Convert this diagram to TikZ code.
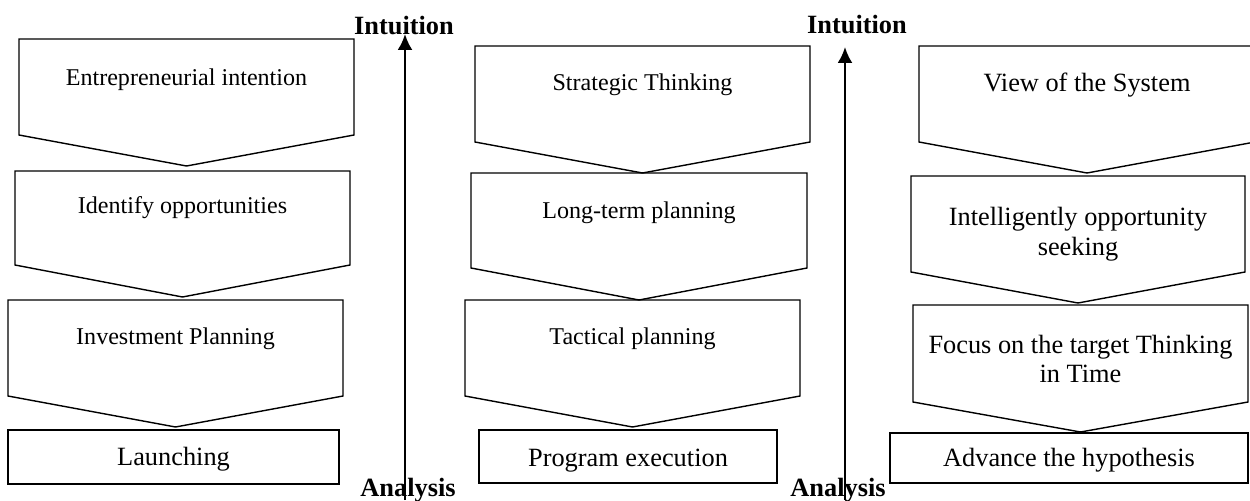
\documentclass[tikz,border=0pt]{standalone}
\usepackage{fontspec}
\setmainfont{Liberation Serif}
\usepackage{tikz}
\usetikzlibrary{arrows.meta}

% stage box: [style] name, left x, right x, top y, side y, tip y, text y, text
\newcommand{\stagebox}[9][]{%
  \draw[stageline] (#3,#5) -- (#4,#5) -- (#4,#6) -- ({(#3+#4)/2},#7) -- (#3,#6) -- cycle;
  \node[stagetext, #1] (#2) at ({(#3+#4)/2},#8) {#9};
}

\begin{document}
\begin{tikzpicture}[
    x=0.02cm, y=-0.02cm,
    >=Latex,
    stageline/.style={draw, line width=0.8pt},
    stagetext/.style={inner sep=0pt, align=center, font=\fontsize{15}{17}\selectfont},
    upper/.style={font=\fontsize{13.7}{15.5}\selectfont},
    axislabel/.style={inner sep=0pt, font=\fontsize{15}{16.5}\selectfont\bfseries},
    trend/.style={line width=1.3pt, -{Latex[length=3.2mm,width=3mm]}}
]
    \useasboundingbox (0,0) rectangle (1250,500);

    % Column 1
    \stagebox[upper]{intent}{19}{354}{39}{135}{166}{80}{Entrepreneurial intention}
    \stagebox[upper]{opport}{15}{350}{171}{265}{297}{208}{Identify opportunities}
    \stagebox[upper]{invest}{8}{343}{300}{396}{427}{339}{Investment Planning}
    \stagebox{launch}{8}{339}{430}{484}{484}{459}{Launching}

    % Column 2
    \stagebox[upper]{strategy}{475}{810}{46}{142}{173}{85}{Strategic Thinking}
    \stagebox[upper]{longterm}{471}{807}{173}{268}{300}{213}{Long-term planning}
    \stagebox[upper]{tactical}{465}{800}{300}{396}{427}{339}{Tactical planning}
    \stagebox{execution}{479}{777}{430}{483}{483}{461}{Program execution}

    % Column 3
    \stagebox{sysview}{919}{1255}{46}{142}{173}{85}{View of the System}
    \stagebox{seeking}{911}{1245}{176}{272}{303}{234}{Intelligently opportunity\\seeking}
    \stagebox{focus}{913}{1248}{305}{402}{432}{359}{Focus on the target Thinking\\in Time}
    \stagebox{hypothesis}{890}{1248}{433}{483}{483}{460}{Advance the hypothesis}

    % Axis labels
    \node[axislabel] (intuit1) at (404,26) {Intuition};
    \node[axislabel] (analys1) at (408,490) {Analysis};
    \node[axislabel] (intuit2) at (857,25) {Intuition};
    \node[axislabel] (analys2) at (838,490) {Analysis};

    % Arrows
    \coordinate (low1) at (405,500);
    \coordinate (high1) at (405,34);
    \coordinate (low2) at (845,500);
    \coordinate (high2) at (845,47);
    \draw[trend] (low1) -- (high1);
    \draw[trend] (low2) -- (high2);
\end{tikzpicture}
\end{document}
